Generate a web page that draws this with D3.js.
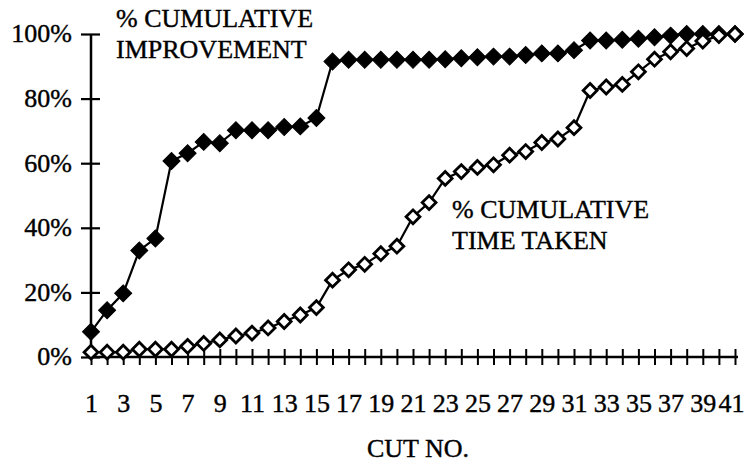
<!DOCTYPE html>
<html lang="en">
<head>
    <meta charset="UTF-8">
    <title>Cumulative improvement vs time taken</title>
    <script src="https://d3js.org/d3.v7.min.js"></script>
    <style>
        body { margin: 0; background: #fff; }
        svg { display: block; }
        text { font-family: "Liberation Serif", "Times New Roman", serif; fill: #000; stroke: #000; stroke-width: 0.4px; }
        .axis path, .axis line { stroke: #000; }
    </style>
</head>
<body>
    <svg width="744" height="464"></svg>
    <script>
        // cut numbers along the x axis
        const cuts = [1, 2, 3, 4, 5, 6, 7, 8, 9, 10, 11, 12, 13, 14, 15, 16, 17, 18, 19, 20,
                      21, 22, 23, 24, 25, 26, 27, 28, 29, 30, 31, 32, 33, 34, 35, 36, 37, 38, 39, 40, 41];
        // % cumulative improvement (filled diamonds)
        const improvement = [7.8, 14.5, 19.7, 33, 36.7, 60.7, 63.1, 66.6, 66.2, 70.2, 70.2, 70.2, 71.2, 71.4, 74,
                             91.5, 92, 92, 92, 92, 92, 92, 92.2, 92.5, 92.8, 93, 93, 93.5, 94, 94, 95,
                             98, 98, 98.2, 98.5, 99, 99.5, 100, 100, 100, 100];
        // % cumulative time taken (open diamonds)
        const timeTaken = [1.5, 1.5, 1.5, 2.4, 2.4, 2.4, 3.3, 4.2, 5.3, 6.5, 7.4, 9, 11, 13, 15.3,
                           23.8, 27, 28.7, 32, 34.3, 43.4, 47.8, 55.3, 57.4, 58.7, 59.5, 62.5, 63.6, 66.4, 67.5, 71,
                           82.5, 83.6, 84.4, 88.3, 92.2, 94.5, 95.5, 97.8, 99.5, 100];
        const yTicks = [0, 20, 40, 60, 80, 100];

        const svg = d3.select("svg");
        const x = d3.scalePoint().domain(cuts).range([91, 735]);
        const y = d3.scaleLinear().domain([0, 100]).range([357, 34]);

        // y axis, ticks crossing the line
        const yAxis = svg.append("g")
            .attr("class", "axis")
            .attr("transform", "translate(91,0)")
            .call(d3.axisLeft(y).tickValues(yTicks).tickSize(10).tickPadding(9)
                .tickFormat(d => d + "%"));
        yAxis.select(".domain").attr("stroke-width", 2.5).attr("d", `M0,${y(100)}V${y(0)}`);
        yAxis.selectAll(".tick line").attr("x1", 9).attr("x2", -10).attr("stroke-width", 2.2);
        yAxis.selectAll(".tick text").attr("font-size", 26).attr("dy", "0.3em");

        // x axis, ticks crossing the line
        const xAxis = svg.append("g")
            .attr("class", "axis")
            .attr("transform", `translate(0,${y(0)})`)
            .call(d3.axisBottom(x).tickSize(8).tickPadding(42)
                .tickFormat(d => d % 2 ? d : ""));
        xAxis.select(".domain").attr("stroke-width", 2.5).attr("d", "M91,0H738");
        xAxis.selectAll(".tick line").attr("y1", -8).attr("y2", 8).attr("stroke-width", 2);
        xAxis.selectAll(".tick text").attr("font-size", 26).attr("dy", "0.2em")
            .attr("dx", d => d === cuts[cuts.length - 1] ? -4 : 0);

        const line = d3.line().x((d, i) => x(cuts[i])).y(d => y(d));
        const diamond = d3.symbol(d3.symbolSquare);

        // improvement series
        svg.append("path").datum(improvement)
            .attr("d", line).attr("fill", "none").attr("stroke", "#000").attr("stroke-width", 2.2);
        svg.append("g").selectAll("path").data(improvement).join("path")
            .attr("d", diamond.size(145))
            .attr("transform", (d, i) => `translate(${x(cuts[i])},${y(d)}) rotate(45)`)
            .attr("fill", "#000").attr("stroke", "#000").attr("stroke-width", 1);

        // time taken series
        svg.append("path").datum(timeTaken)
            .attr("d", line).attr("fill", "none").attr("stroke", "#000").attr("stroke-width", 2.2);
        svg.append("g").selectAll("path").data(timeTaken).join("path")
            .attr("d", diamond.size(96))
            .attr("transform", (d, i) => `translate(${x(cuts[i])},${y(d)}) rotate(45)`)
            .attr("fill", "#fff").attr("stroke", "#000").attr("stroke-width", 2.8);

        // series labels
        const label = (lines, lx, ly) => {
            const t = svg.append("text").attr("font-size", 26).attr("x", lx).attr("y", ly);
            lines.forEach((s, i) => t.append("tspan").attr("x", lx).attr("dy", i ? 31 : 0).text(s));
        };
        label(["% CUMULATIVE", "IMPROVEMENT"], 116, 27);
        label(["% CUMULATIVE", "TIME TAKEN"], 452, 218);

        svg.append("text").attr("x", 418).attr("y", 457)
            .attr("text-anchor", "middle").attr("font-size", 26).text("CUT NO.");
    </script>
</body>
</html>
